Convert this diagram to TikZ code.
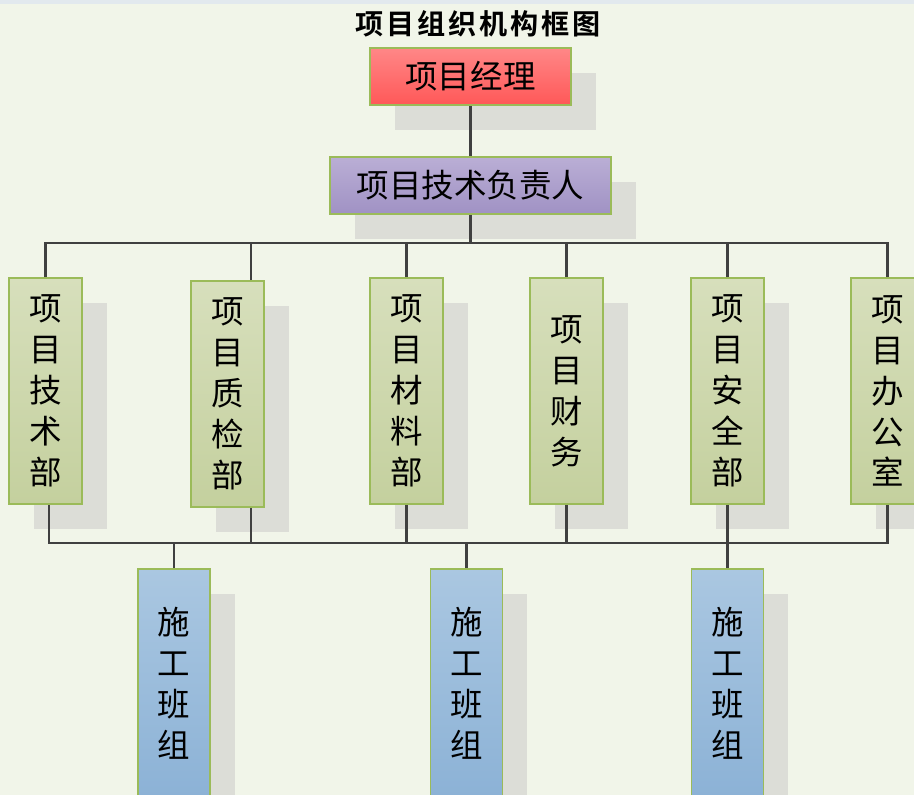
\documentclass[tikz,border=0pt]{standalone}
\usepackage{fontspec}
\setmainfont{Noto Sans CJK SC}
\newfontfamily\titlefont[LetterSpace=10]{Noto Sans CJK SC Bold}
\usepackage{xcolor}
\usepackage{tikz}
\usetikzlibrary{shadows,calc,positioning}
\definecolor{paperbg}{RGB}{241,245,233}
\definecolor{topstrip}{RGB}{226,233,238}
\definecolor{boxborder}{RGB}{155,187,89}
\definecolor{shadowgray}{RGB}{220,221,215}
\definecolor{linkgray}{RGB}{64,64,64}
\definecolor{pmtop}{RGB}{255,135,135}
\definecolor{pmbottom}{RGB}{255,88,88}
\definecolor{leadtop}{RGB}{186,174,213}
\definecolor{leadbottom}{RGB}{160,146,196}
\definecolor{depttop}{RGB}{215,223,188}
\definecolor{deptbottom}{RGB}{196,208,158}
\definecolor{teamtop}{RGB}{170,199,225}
\definecolor{teambottom}{RGB}{140,178,214}

\begin{document}
\begin{tikzpicture}[
    x=0.02cm,y=-0.02cm,
    orgbox/.style={rectangle,draw=boxborder,line width=1pt,inner sep=0pt,align=center,
        font=\fontsize{18.5}{23.3}\selectfont,
        drop shadow={shadow xshift=0.5cm,shadow yshift=-0.5cm,fill=shadowgray,opacity=1}},
    topbox/.style={orgbox,minimum height=1.14cm,top color=pmtop,bottom color=pmbottom},
    leadbox/.style={orgbox,minimum height=1.14cm,minimum width=5.62cm,top color=leadtop,bottom color=leadbottom},
    deptbox/.style={orgbox,minimum width=1.46cm,minimum height=4.52cm,top color=depttop,bottom color=deptbottom},
    teambox/.style={orgbox,minimum width=1.44cm,minimum height=4.56cm,top color=teamtop,bottom color=teambottom},
    link/.style={draw=linkgray,line width=1.6pt}
]
    \clip (0,0) rectangle (914,795);
    \fill[paperbg] (0,0) rectangle (914,795);
    \fill[topstrip] (0,0) rectangle (914,4);

    \node[font=\titlefont\fontsize{16}{19}\selectfont] (title) at (478,24) {项目组织机构框图};

    \node[topbox,minimum width=4.02cm] (pm) at (470.5,76.5) {项目经理};
    \node[leadbox] (lead) at (470.5,185.5) {项目技术负责人};

    % departments
    \node[deptbox] (d1) at (45.5,391) {项\\目\\技\\术\\部};
    \node[deptbox] (d2) at (227.5,394) {项\\目\\质\\检\\部};
    \node[deptbox] (d3) at (406.5,391) {项\\目\\材\\料\\部};
    \node[deptbox] (d4) at (566.5,391) {项\\目\\财\\务};
    \node[deptbox] (d5) at (727.5,391) {项\\目\\安\\全\\部};
    \node[deptbox] (d6) at (887.5,391) {项\\目\\办\\公\\室};

    % teams
    \node[teambox] (t1) at (174,683) {施\\工\\班\\组};
    \node[teambox] (t2) at (466.5,683) {施\\工\\班\\组};
    \node[teambox] (t3) at (727.5,683) {施\\工\\班\\组};

    \coordinate (bus1) at (470.5,243);
    \coordinate (bus2) at (468,543);

    \draw[link] (pm) -- (lead);
    \draw[link] (lead.south) -- (bus1);
    \foreach \d in {d1,d3,d4,d5,d6}
        \draw[link] (\d.north) |- (bus1);
    \draw[link] ([xshift=0.47cm]d2.north) |- (bus1);
    \foreach \d in {d3,d4,d5,d6}
        \draw[link] (\d.south) |- (bus2);
    \draw[link] ([xshift=0.07cm]d1.south) |- (bus2);
    \draw[link] ([xshift=0.47cm]d2.south) |- (bus2);
    \foreach \t in {t1,t2,t3}
        \draw[link] (\t.north) |- (bus2);
\end{tikzpicture}
\end{document}
